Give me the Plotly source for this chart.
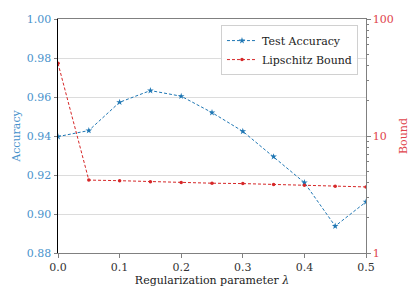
import plotly.graph_objects as go

lam = [0.0, 0.05, 0.1, 0.15, 0.2, 0.25, 0.3, 0.35, 0.4, 0.45, 0.5]
test_accuracy = [0.9397, 0.9428, 0.9573, 0.9633, 0.9604, 0.952, 0.9424, 0.9294, 0.9161, 0.8938, 0.9062]
lipschitz_bound = [41.8, 4.2, 4.15, 4.07, 4.0, 3.95, 3.92, 3.85, 3.79, 3.72, 3.67]

x_ticks = [0.0, 0.1, 0.2, 0.3, 0.4, 0.5]
acc_ticks = [0.88, 0.90, 0.92, 0.94, 0.96, 0.98, 1.00]
bound_ticks = [1, 10, 100]
bound_minor = [2, 3, 4, 5, 6, 7, 8, 9, 20, 30, 40, 50, 60, 70, 80, 90]

BLUE = "#1f77b4"
BLUE_TXT = "#4a93cc"
RED = "#d62728"
RED_TXT = "#e0444c"
FONT = "DejaVu Serif"
FS = 11

fig = go.Figure()
fig.add_trace(go.Scatter(
    x=lam, y=test_accuracy, name="Test Accuracy", mode="lines+markers",
    line=dict(color=BLUE, width=1, dash="3px,2px"),
    marker=dict(symbol="star", size=5, color=BLUE),
    yaxis="y",
))
fig.add_trace(go.Scatter(
    x=lam, y=lipschitz_bound, name="Lipschitz Bound", mode="lines+markers",
    line=dict(color=RED, width=1, dash="3px,2px"),
    marker=dict(symbol="circle", size=3.5, color=RED),
    yaxis="y2",
))

fig.update_layout(
    width=412, height=292,
    margin=dict(l=50, r=54, t=11, b=47),
    paper_bgcolor="white", plot_bgcolor="white",
    font=dict(family=FONT, size=FS, color="#222"),
    showlegend=True,
    legend=dict(x=0.974, y=0.974, xanchor="right", yanchor="top",
                bgcolor="rgba(255,255,255,0.9)", bordercolor="#d0d0d0", borderwidth=1,
                font=dict(family=FONT, size=FS, color="#222"),
                tracegroupgap=0, itemwidth=30),
    xaxis=dict(
        range=[0, 0.5], tickvals=x_ticks, ticktext=[f"{v:.1f}" for v in x_ticks],
        showline=True, linecolor="#808080", linewidth=1.3, mirror=True,
        ticks="outside", ticklen=3.5, tickcolor="#808080",
        showgrid=False, zeroline=False, automargin=False,
        title=dict(text="Regularization parameter <i>λ</i>", standoff=3,
                   font=dict(family=FONT, size=FS, color="#222")),
        tickfont=dict(family=FONT, size=FS, color="#333"),
    ),
    yaxis=dict(
        range=[0.88, 1.0], tickvals=acc_ticks, ticktext=[f"{v:.2f}" for v in acc_ticks],
        showline=True, linecolor="black", linewidth=1,
        ticks="outside", ticklen=3.5, tickcolor="#808080",
        showgrid=True, gridcolor="#dcdcdc", gridwidth=1.2, zeroline=False, automargin=False,
        title=dict(text="Accuracy", standoff=3, font=dict(family=FONT, size=FS, color=BLUE_TXT)),
        tickfont=dict(family=FONT, size=FS, color=BLUE_TXT),
    ),
    yaxis2=dict(
        type="log", range=[0, 2], overlaying="y", side="right",
        tickvals=bound_ticks, ticktext=[str(v) for v in bound_ticks],
        showline=True, linecolor="#808080", linewidth=1.3,
        ticks="outside", ticklen=3.5, tickcolor="#808080",
        minor=dict(tickvals=bound_minor, ticks="outside", ticklen=2, tickcolor="#808080", showgrid=False),
        showgrid=False, zeroline=False, automargin=False,
        title=dict(text="Bound", standoff=6, font=dict(family=FONT, size=FS, color=RED_TXT)),
        tickfont=dict(family=FONT, size=FS, color=RED_TXT),
    ),
)

fig.write_html("out.html")
